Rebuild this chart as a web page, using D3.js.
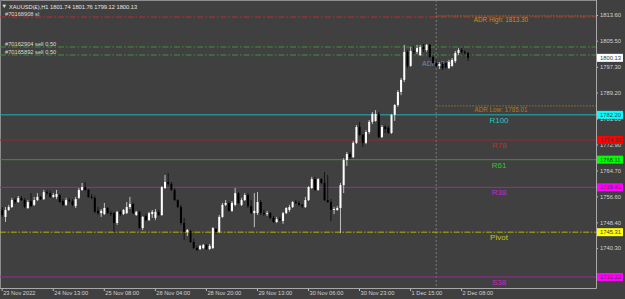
<!DOCTYPE html>
<html lang="en">
<head>
<meta charset="UTF-8">
<title>XAUUSD H1</title>
<style>
  body { margin: 0; background: #404040; }
  svg { display: block; }
  text { font-family: "Liberation Sans", Arial, "DejaVu Sans", sans-serif; }
</style>
</head>
<body>
<svg width="625" height="299"></svg>
<script src="https://cdn.jsdelivr.net/npm/d3@7/dist/d3.min.js"></script>
<script>
// H1 bars, [open, high, low, close]
var candles = [
  [1752.3,1753.2,1750.1,1750.7],[1750.1,1753.2,1748.5,1752.3],[1752.3,1753.9,1752.0,1753.2],[1753.2,1756.1,1752.9,1755.4],
  [1755.4,1756.1,1754.2,1754.8],[1754.8,1756.7,1754.5,1756.1],[1756.1,1756.7,1755.1,1755.4],[1755.4,1756.1,1752.9,1753.3],
  [1752.9,1755.4,1752.6,1754.8],[1755.1,1757.6,1753.2,1753.5],[1753.9,1756.4,1753.5,1755.4],[1755.4,1757.6,1755.1,1756.4],
  [1756.4,1756.7,1755.4,1755.7],[1755.7,1758.6,1755.4,1757.9],[1757.9,1758.6,1757.0,1757.6],[1757.6,1758.3,1756.1,1756.4],
  [1756.4,1757.6,1756.1,1757.0],[1756.4,1758.6,1755.7,1757.3],[1757.0,1757.3,1754.5,1754.8],[1755.1,1755.7,1753.5,1753.9],
  [1753.9,1756.1,1753.5,1755.4],[1755.4,1756.1,1754.5,1755.1],[1755.1,1755.7,1753.5,1753.9],[1753.5,1756.4,1752.9,1755.7],
  [1756.1,1759.2,1755.7,1758.6],[1758.6,1760.8,1758.3,1759.5],[1759.5,1761.1,1758.3,1758.6],[1758.6,1758.9,1756.1,1756.4],
  [1756.4,1757.3,1755.7,1756.1],[1756.1,1756.7,1751.3,1751.7],[1752.0,1753.2,1750.7,1751.3],[1751.3,1752.6,1750.1,1752.0],
  [1751.0,1754.5,1750.7,1752.9],[1752.9,1753.2,1751.0,1751.3],[1751.3,1752.0,1750.4,1751.0],[1751.3,1751.7,1745.4,1748.2],
  [1748.2,1752.0,1747.6,1751.7],[1751.7,1752.3,1750.4,1751.0],[1751.0,1752.6,1750.7,1752.3],[1751.3,1754.8,1751.0,1753.2],
  [1753.2,1756.4,1752.6,1754.2],[1754.2,1754.5,1751.0,1751.3],[1750.7,1752.0,1750.4,1751.7],[1751.7,1752.0,1746.3,1746.6],
  [1746.6,1750.4,1746.0,1750.1],[1750.4,1751.0,1748.8,1749.1],[1749.1,1751.7,1748.8,1751.3],[1751.0,1752.3,1749.8,1751.7],
  [1749.8,1752.6,1749.1,1751.7],[1751.7,1752.3,1750.4,1750.7],[1750.7,1759.8,1750.4,1759.5],[1759.2,1763.3,1758.9,1761.1],
  [1761.1,1763.9,1759.8,1760.5],[1760.5,1761.1,1758.3,1758.6],[1758.6,1759.2,1755.1,1755.4],[1755.4,1755.7,1752.9,1753.2],
  [1753.2,1753.9,1747.6,1748.2],[1748.2,1749.8,1742.8,1745.4],[1745.4,1746.3,1744.1,1746.0],[1745.7,1746.0,1741.9,1742.2],
  [1742.2,1743.2,1740.0,1740.3],[1740.3,1741.0,1739.4,1739.7],[1740.0,1741.3,1739.7,1741.0],[1740.3,1741.6,1740.0,1741.3],
  [1741.3,1741.6,1739.7,1740.0],[1740.0,1741.6,1739.7,1741.0],[1740.3,1746.9,1740.0,1746.6],[1746.3,1746.6,1744.7,1745.4],
  [1745.4,1750.7,1745.0,1750.1],[1750.1,1754.5,1749.8,1753.9],[1753.9,1755.4,1753.5,1754.5],[1754.5,1754.8,1751.7,1752.0],
  [1752.0,1755.1,1751.7,1754.5],[1753.9,1759.2,1753.5,1757.6],[1757.6,1757.9,1754.2,1754.5],[1753.9,1756.1,1753.5,1755.4],
  [1755.4,1757.6,1755.1,1757.0],[1757.0,1757.6,1752.9,1753.5],[1753.5,1755.4,1751.0,1751.3],[1751.3,1757.6,1746.9,1752.0],
  [1751.3,1757.9,1750.7,1754.8],[1754.8,1755.4,1750.7,1751.3],[1751.3,1752.3,1750.4,1751.0],[1751.0,1752.0,1750.4,1751.3],
  [1751.3,1751.7,1749.4,1749.8],[1749.8,1750.4,1748.2,1748.5],[1748.5,1750.1,1748.2,1749.4],[1749.4,1750.1,1748.8,1749.1],
  [1748.8,1751.7,1747.9,1751.3],[1751.3,1753.2,1751.0,1752.9],[1752.3,1753.9,1751.7,1753.2],[1753.2,1755.1,1752.9,1754.8],
  [1754.8,1755.4,1754.2,1754.5],[1754.5,1755.1,1753.5,1753.9],[1753.9,1754.2,1752.9,1753.5],[1753.2,1756.4,1752.9,1755.4],
  [1755.4,1759.8,1755.1,1759.5],[1759.2,1762.7,1758.9,1762.0],[1762.0,1762.7,1758.3,1758.6],[1758.6,1762.3,1758.3,1762.0],
  [1762.0,1762.3,1760.5,1760.8],[1760.8,1764.2,1755.1,1755.4],[1755.4,1763.3,1754.5,1754.8],[1754.8,1755.7,1748.8,1752.3],
  [1752.3,1753.2,1751.0,1752.6],[1752.3,1753.5,1752.0,1752.9],[1752.9,1760.8,1745.0,1760.1],[1760.1,1768.6,1757.6,1768.0],
  [1768.0,1770.5,1766.1,1769.9],[1769.9,1770.5,1768.3,1768.9],[1768.9,1774.0,1768.6,1773.4],[1773.4,1779.0,1773.0,1778.4],
  [1778.4,1780.0,1775.6,1775.9],[1775.9,1776.2,1772.1,1773.4],[1773.4,1777.4,1773.0,1776.8],[1776.8,1780.6,1776.2,1780.0],
  [1780.0,1783.1,1779.3,1782.5],[1780.3,1783.7,1780.0,1782.5],[1782.5,1783.1,1774.9,1775.2],[1775.2,1779.0,1774.9,1778.4],
  [1778.4,1779.0,1776.5,1777.8],[1778.1,1778.7,1776.2,1776.5],[1776.5,1782.5,1776.2,1782.2],[1782.2,1785.6,1780.3,1785.3],
  [1785.3,1790.0,1784.7,1789.4],[1789.4,1793.8,1788.4,1793.2],[1793.2,1804.2,1792.5,1802.0],[1802.0,1802.6,1796.9,1797.6],
  [1797.6,1803.5,1797.3,1802.3],[1802.3,1803.9,1801.3,1802.0],[1802.0,1804.2,1801.3,1803.2],[1801.0,1804.2,1800.7,1803.5],
  [1803.5,1804.5,1802.0,1802.9],[1802.6,1804.5,1802.0,1804.2],[1804.2,1804.5,1800.1,1800.4],[1800.4,1801.0,1798.2,1798.5],
  [1798.5,1799.5,1797.3,1797.6],[1797.6,1798.8,1796.6,1798.2],[1798.2,1798.8,1796.3,1796.9],[1798.5,1799.1,1796.6,1797.3],
  [1796.9,1799.5,1796.6,1798.8],[1797.6,1800.1,1797.3,1799.5],[1799.1,1802.3,1798.5,1801.7],[1801.7,1803.2,1801.0,1802.6],
  [1802.6,1803.2,1801.3,1802.0],[1802.0,1802.6,1800.9,1801.7],[1801.74,1801.76,1799.12,1800.13]
];

// time axis: bar index -> label
var timeTickIdx = [0, 16, 32, 48, 64, 80, 96, 112, 128, 144];
var timeTickLabels = ['23 Nov 2022', '24 Nov 13:00', '25 Nov 08:00', '28 Nov 04:00', '28 Nov 20:00',
  '29 Nov 13:00', '30 Nov 06:00', '30 Nov 23:00', '1 Dec 15:00', '2 Dec 08:00'];
var daySepIdx = 136;

var priceTicks = [1813.60, 1805.50, 1797.30, 1789.20, 1781.00, 1772.90, 1764.70, 1756.60, 1748.40, 1740.30, 1732.10];

// pivot / fib levels
var levelNames = ['R100', 'R78', 'R61', 'R38', 'Pivot', 'S38'];
var levelPrices = [1782.20, 1774.30, 1768.11, 1759.41, 1745.31, 1731.22];

// open orders
var orderLabels = ['#70168908 sl', '#70162904 sell 0.50', '#70165892 sell 0.50'];
var orderPrices = [1812.97, 1803.54, 1801.02];
var orderKinds = ['sl', 'sell', 'sell'];

var adrHigh = 1813.30, adrLow = 1785.01, adrText = 'ADR: 283';
var symbol = 'XAUUSD(£),H1';
var lastBar = candles[candles.length - 1];

var levelStyle = {
  R100: { line: '#1fb0b4', text: '#2cc6c6', box: '#00ffff', dash: null },
  R78: { line: '#9a2a2a', text: '#d42424', box: '#ff0000', dash: null },
  R61: { line: '#2f9a2f', text: '#28c828', box: '#00ff00', dash: null },
  R38: { line: '#9a2c9a', text: '#c42ac4', box: '#ff00ff', dash: null },
  Pivot: { line: '#b4b400', text: '#c4c420', box: '#ffff00', dash: '6,1.6,1.6,1.6' },
  S38: { line: '#9a2c9a', text: '#c42ac4', box: '#ff00ff', dash: null }
};
var orderStyle = { sl: '#d02a2a', sell: '#3c9a3c' };

var plotRight = 596, plotBottom = 288;

var svg = d3.select('svg');

var x = d3.scaleLinear().domain([0, 144]).range([2.3, 461.7]);
var y = d3.scaleLinear().domain([1813.6, 1740.3]).range([15, 248.1]);

svg.append('rect').attr('width', 625).attr('height', 299).attr('fill', '#404040');

// frame
svg.append('path')
  .attr('d', 'M0.5,' + plotBottom + 'V0.5H' + plotRight)
  .attr('fill', 'none').attr('stroke', '#8c8c8c');

// day separator
svg.append('line')
  .attr('x1', x(daySepIdx)).attr('x2', x(daySepIdx))
  .attr('y1', 0).attr('y2', plotBottom)
  .attr('stroke', '#8a8a8a').attr('stroke-width', 0.8).attr('stroke-dasharray', '2,2');

// order lines
svg.selectAll('.order').data(orderPrices).enter().append('line')
  .attr('x1', 0).attr('x2', plotRight)
  .attr('y1', d => y(d)).attr('y2', d => y(d))
  .attr('stroke', (d, i) => orderStyle[orderKinds[i]])
  .attr('stroke-width', 0.9)
  .attr('stroke-dasharray', '6,2,1.6,2');
svg.selectAll('.orderlabel').data(orderLabels).enter().append('text')
  .attr('x', 5).attr('y', (d, i) => y(orderPrices[i]) - 1.4)
  .attr('font-size', 5.7).attr('fill', '#dcdcdc')
  .text(d => d);

// level lines
svg.selectAll('.level').data(levelPrices).enter().append('line')
  .attr('x1', 0).attr('x2', plotRight)
  .attr('y1', d => y(d)).attr('y2', d => y(d))
  .attr('stroke', (d, i) => levelStyle[levelNames[i]].line)
  .attr('stroke-dasharray', (d, i) => levelStyle[levelNames[i]].dash);
svg.selectAll('.leveltext').data(levelNames).enter().append('text')
  .attr('x', 499).attr('y', (d, i) => y(levelPrices[i]) + 8)
  .attr('text-anchor', 'middle').attr('font-size', 8)
  .attr('fill', d => levelStyle[d].text)
  .text(d => d);

// ADR range
[adrHigh, adrLow].forEach(function (p, i) {
  svg.append('line')
    .attr('x1', x(daySepIdx)).attr('x2', plotRight)
    .attr('y1', y(p)).attr('y2', y(p))
    .attr('stroke', '#b07420').attr('stroke-width', 0.9).attr('stroke-dasharray', '1.5,1.5');
  svg.append('text')
    .attr('x', 501).attr('y', y(p) + 5.6)
    .attr('text-anchor', 'middle').attr('font-size', 6.3)
    .attr('fill', i ? '#b27a22' : '#d4881c')
    .text((i ? 'ADR Low: ' : 'ADR High: ') + d3.format('.2f')(p));
});
svg.append('text')
  .attr('x', 422).attr('y', 65.5)
  .attr('font-size', 7).attr('fill', '#6f8db0')
  .text(adrText);

// candles
var bars = svg.append('g').selectAll('g').data(candles).enter().append('g');
bars.append('line')
  .attr('x1', (d, i) => x(i)).attr('x2', (d, i) => x(i))
  .attr('y1', d => y(d[1])).attr('y2', d => y(d[2]))
  .attr('stroke', d => d[3] >= d[0] ? '#cfcfcf' : '#111')
  .attr('stroke-width', 0.9);
bars.append('rect')
  .attr('x', (d, i) => x(i) - 1)
  .attr('width', 2)
  .attr('y', d => y(Math.max(d[0], d[3])))
  .attr('height', d => Math.max(0.8, Math.abs(y(d[0]) - y(d[3]))))
  .attr('fill', d => d[3] >= d[0] ? '#ffffff' : '#000000');

// header
svg.append('text').attr('x', 1.5).attr('y', 8.3).attr('font-size', 5.5)
  .attr('font-family', 'DejaVu Sans').attr('fill', '#e6e6e6').text('▼');
svg.append('text').attr('x', 9).attr('y', 8.6).attr('font-size', 5.7).attr('fill', '#e6e6e6')
  .text(symbol + '  ' + lastBar.map(d3.format('.2f')).join(' '));

// price axis
var yAxis = d3.axisRight(y).tickValues(priceTicks).tickFormat(d3.format('.2f')).tickSize(2).tickPadding(2);
var gy = svg.append('g').attr('transform', 'translate(' + plotRight + ',0)').call(yAxis);
gy.select('.domain').remove();
gy.selectAll('line').attr('stroke', '#bdbdbd');
gy.selectAll('text').attr('fill', '#d2d2d2').attr('font-size', 5.8)
  .attr('font-family', '"Liberation Sans", Arial, sans-serif');

svg.append('line').attr('x1', plotRight + 0.5).attr('x2', plotRight + 0.5)
  .attr('y1', 0).attr('y2', plotBottom + 0.5).attr('stroke', '#a8a8a8');

// time axis
var xAxis = d3.axisBottom(x).tickValues(timeTickIdx)
  .tickFormat((d, i) => timeTickLabels[i]).tickSize(3);
var gx = svg.append('g').attr('transform', 'translate(-0.6,' + plotBottom + ')').call(xAxis);
gx.select('.domain').remove();
gx.selectAll('line').attr('stroke', '#bdbdbd');
gx.selectAll('text').attr('fill', '#d2d2d2').attr('font-size', 5.7)
  .attr('font-family', '"Liberation Sans", Arial, sans-serif')
  .attr('text-anchor', 'start').attr('x', 1).attr('y', 3.4);

svg.append('line').attr('x1', 0).attr('x2', plotRight + 0.5)
  .attr('y1', plotBottom + 0.5).attr('y2', plotBottom + 0.5).attr('stroke', '#a8a8a8');

// price boxes
function priceBox(p, bg) {
  svg.append('rect').attr('x', plotRight + 1).attr('y', y(p) - 4)
    .attr('width', 26).attr('height', 8).attr('fill', bg);
  svg.append('text').attr('x', plotRight + 4).attr('y', y(p) + 2.1)
    .attr('font-size', 5.8).attr('fill', '#3a3a3a')
    .text(d3.format('.2f')(p));
}
levelPrices.forEach((p, i) => priceBox(p, levelStyle[levelNames[i]].box));
priceBox(lastBar[3], '#ffffff');
</script>
</body>
</html>
